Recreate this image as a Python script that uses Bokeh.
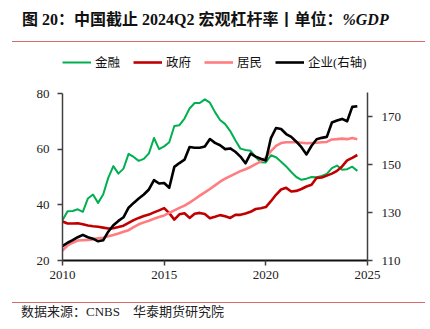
from bokeh.plotting import figure
from bokeh.models import Range1d, LinearAxis, Legend, LegendItem, FixedTicker, Div
from bokeh.layouts import column
from bokeh.embed import file_html
from bokeh.resources import INLINE

# ---------------- data (leverage ratio, % of GDP) ----------------
quarters = (["2009Q4"] + [f"{y}Q{q}" for y in range(2010, 2024) for q in (1, 2, 3, 4)]
            + ["2024Q1", "2024Q2"])

financial = [34.5, 37.7, 37.8, 38.4, 37.5, 42.3, 43.7, 40.7, 43.7, 49.7,
             53.9, 51.2, 53.0, 58.3, 57.2, 55.8, 56.5, 58.5, 64.0, 60.0,
             61.0, 62.5, 68.3, 68.6, 71.0, 74.6, 76.6, 76.6, 77.9, 76.7,
             73.3, 70.5, 69.0, 66.5, 63.2, 60.2, 59.7, 59.4, 57.2, 55.3,
             55.2, 57.8, 57.1, 55.5, 53.8, 51.8, 50.0, 49.0, 49.4, 50.0,
             49.9, 50.4, 51.1, 53.2, 54.1, 52.6, 52.8, 53.7, 52.2]

government = [34.0, 33.3, 33.3, 33.4, 33.0, 32.6, 32.3, 32.1, 31.8, 31.5,
              31.6, 32.0, 32.5, 33.5, 34.5, 35.3, 36.0, 36.5, 37.3, 38.0,
              38.8, 37.0, 34.7, 36.6, 37.0, 35.3, 36.8, 37.1, 36.7, 35.2,
              35.7, 36.3, 35.9, 35.3, 36.4, 36.4, 36.9, 37.5, 38.5, 38.8,
              39.2, 41.3, 43.6, 45.5, 46.1, 44.8, 45.0, 45.7, 46.6, 47.2,
              49.7, 49.8, 50.5, 51.2, 52.2, 53.8, 56.0, 56.9, 57.9]

household = [23.6, 25.4, 26.4, 27.2, 27.3, 27.4, 27.6, 28.0, 28.2, 28.7,
             29.2, 29.7, 30.3, 30.9, 32.0, 33.0, 33.7, 34.3, 35.0, 35.6,
             36.2, 37.1, 38.0, 38.9, 39.7, 40.8, 42.0, 43.3, 44.5, 45.7,
             47.0, 48.3, 49.4, 50.3, 51.2, 52.1, 52.8, 53.6, 54.6, 55.5,
             57.0, 59.3, 61.2, 62.2, 62.5, 62.5, 62.5, 62.3, 62.1, 62.2,
             62.3, 62.5, 62.6, 63.5, 63.6, 63.8, 63.6, 64.0, 63.6]

corporate = [116.0, 117.4, 118.5, 119.7, 120.7, 119.7, 119.1, 118.0, 118.4, 122.0,
             124.7, 126.5, 128.0, 132.0, 134.0, 135.8, 137.5, 139.6, 143.5, 142.1,
             142.3, 140.3, 149.0, 150.6, 152.0, 157.3, 157.0, 157.0, 157.5, 160.6,
             159.0, 158.0, 156.4, 156.7, 155.3, 153.3, 150.5, 154.5, 153.3, 152.4,
             151.7, 161.0, 165.2, 164.8, 162.7, 161.5, 159.5, 157.2, 154.2, 157.8,
             160.5, 161.1, 161.5, 167.5, 168.3, 169.0, 168.0, 174.0, 174.3]

series_names = ["金融", "政府", "居民", "企业(右轴)"]
left_ticks = [20, 40, 60, 80]
right_ticks = [110, 130, 150, 170]
x_ticks = [2010, 2015, 2020, 2025]
left_bounds = (20, 80)
right_bounds = (110, 180)

title_main = "图 20：中国截止 2024Q2 宏观杠杆率丨单位："
title_unit = "%GDP"
source_text = "数据来源：CNBS&nbsp;&nbsp;&nbsp;&nbsp;华泰期货研究院"

xpos = [int(q[:4]) + int(q[-1]) * 0.25 for q in quarters]

MIX_FONT = "Liberation Serif, Noto Sans CJK SC"
SEP_COLOR = "#D9696B"

# ---------------- title strip ----------------
title_html = (
    '<div style="position:relative;width:430px;height:50px;margin:0;padding:0;">'
    '<div style="position:absolute;left:22px;top:12px;white-space:nowrap;'
    "font-family:'Liberation Serif','Noto Sans CJK SC';font-weight:bold;"
    'font-size:16px;line-height:16px;color:#111111;">'
    f'{title_main}<i>{title_unit}</i></div>'
    f'<div style="position:absolute;left:12px;top:41px;width:413px;height:0;'
    f'border-top:1.5px solid {SEP_COLOR};"></div></div>'
)
t = Div(text=title_html, width=430, height=50, margin=0)

# ---------------- main chart ----------------
FRAME_H = 210
left_top = left_bounds[0] + FRAME_H / (167 / 60)
right_top = right_bounds[0] + FRAME_H / 2.4

p = figure(width=430, height=240, x_range=Range1d(2010, 2025),
           y_range=Range1d(left_bounds[0], left_top),
           output_backend="svg", toolbar_location=None,
           min_border_left=62, min_border_right=63, min_border_top=0, min_border_bottom=30)
p.extra_y_ranges = {"right": Range1d(right_bounds[0], right_top)}
p.outline_line_color = None
p.xgrid.visible = False
p.ygrid.visible = False
p.background_fill_color = "white"

r1 = p.line(xpos, financial, line_color="#00B050", line_width=2, line_join="round")
r2 = p.line(xpos, government, line_color="#C00000", line_width=2.6, line_join="round")
r3 = p.line(xpos, household, line_color="#FF7C80", line_width=2.6, line_join="round")
r4 = p.line(xpos, corporate, line_color="#000000", line_width=2.6, line_join="round",
            y_range_name="right")

raxis = LinearAxis(y_range_name="right")
p.add_layout(raxis, "right")

p.xaxis.ticker = FixedTicker(ticks=x_ticks)
p.yaxis[0].ticker = FixedTicker(ticks=left_ticks)
raxis.ticker = FixedTicker(ticks=right_ticks)
p.yaxis[0].bounds = left_bounds
raxis.bounds = right_bounds

for ax in [p.xaxis[0], p.yaxis[0], raxis]:
    ax.axis_line_color = "#404040"
    ax.axis_line_width = 1.5
    ax.major_tick_line_color = "#404040"
    ax.major_tick_line_width = 1.5
    ax.major_tick_in = 0
    ax.major_tick_out = 5
    ax.minor_tick_line_color = None
    ax.major_label_text_font = "Liberation Serif"
    ax.major_label_text_font_size = "13px"
    ax.major_label_text_color = "#222222"
p.xaxis[0].axis_line_color = "#111111"
p.xaxis[0].axis_line_width = 2
p.xaxis[0].major_label_standoff = 5
p.yaxis[0].major_label_standoff = 8
raxis.major_label_standoff = 9

legend = Legend(items=[LegendItem(label=series_names[0], renderers=[r1]),
                       LegendItem(label=series_names[1], renderers=[r2]),
                       LegendItem(label=series_names[2], renderers=[r3]),
                       LegendItem(label=series_names[3], renderers=[r4])],
                location=(0, FRAME_H - 21), orientation="horizontal",
                glyph_width=29, glyph_height=16, label_height=16,
                label_standoff=4, spacing=13,
                padding=0, margin=0, label_text_font=MIX_FONT,
                label_text_font_size="12.5px", label_text_color="#111111",
                background_fill_alpha=0, border_line_color=None)
p.add_layout(legend, "center")

# ---------------- source strip ----------------
source_html = (
    '<div style="position:relative;width:430px;height:39px;margin:0;padding:0;">'
    f'<div style="position:absolute;left:12px;top:12px;width:413px;height:0;'
    f'border-top:1.3px solid {SEP_COLOR};"></div>'
    '<div style="position:absolute;left:21px;top:15px;white-space:nowrap;'
    "font-family:'Liberation Serif','Noto Sans CJK SC';"
    f'font-size:13px;line-height:14px;color:#222222;">{source_text}</div></div>'
)
f = Div(text=source_html, width=430, height=39, margin=0)

layout = column(t, p, f, spacing=0)
open("out.html", "w").write(file_html(layout, INLINE))
